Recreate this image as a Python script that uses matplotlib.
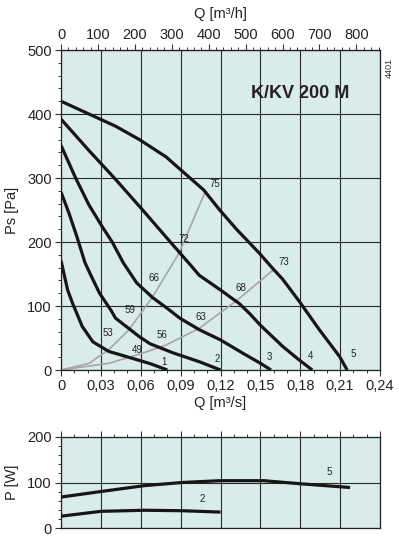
import numpy as np
import matplotlib
matplotlib.use('Agg')
import matplotlib.pyplot as plt
from matplotlib.ticker import MultipleLocator, FixedLocator

plt.rcParams['font.family'] = ['Liberation Sans', 'DejaVu Sans']

# fan curves, Q [m3/s] vs Ps [Pa]
q1 = [0, 0.005, 0.00875, 0.016, 0.024, 0.036, 0.054, 0.067, 0.08]
ps1 = [171, 125, 104, 68, 44, 29, 18, 10, 0]
q2 = [0, 0.006, 0.012, 0.018, 0.022, 0.029, 0.038, 0.041, 0.059, 0.067, 0.084, 0.104, 0.12]
ps2 = [278, 245, 208, 168, 150, 120, 92, 81, 52, 41, 27, 13, 0]
q3 = [0, 0.011, 0.021, 0.031, 0.0385, 0.047, 0.057, 0.069, 0.0795, 0.0894, 0.104, 0.12, 0.137, 0.15, 0.158]
ps3 = [351, 300, 258, 224, 200, 167, 136, 113, 97, 81, 63, 47, 26, 10.5, 0]
q4 = [0, 0.0133, 0.021, 0.041, 0.061, 0.076, 0.0894, 0.097, 0.104, 0.12, 0.134, 0.142, 0.15, 0.1667, 0.179, 0.189]
ps4 = [392, 361, 343, 298, 251, 215, 183, 165, 148, 125, 104, 88, 70, 37, 16, 0]
q5 = [0, 0.021, 0.041, 0.059, 0.079, 0.0894, 0.1075, 0.119, 0.132, 0.149, 0.16, 0.1667, 0.179, 0.194, 0.2096, 0.2153]
ps5 = [420, 400, 381, 360, 333, 314, 281, 251, 220, 183, 157, 142, 108, 64, 21, 0]
fan_q = [q1, q2, q3, q4, q5]
fan_ps = [ps1, ps2, ps3, ps4, ps5]
fan_names = ['1', '2', '3', '4', '5']
fan_name_pos = [(0.0775, 13), (0.1175, 17), (0.157, 21), (0.188, 22), (0.22, 25)]

# system curves (grey)
qa = [0, 0.0212, 0.036, 0.051, 0.069, 0.0889, 0.108]
psa = [0, 10.4, 32, 62.5, 114.5, 183, 276]
qb = [0, 0.036, 0.061, 0.079, 0.104, 0.1325, 0.16]
psb = [0, 10.4, 26, 39, 65, 109, 157]

# sound levels on the curves
db_text = ['53', '49', '59', '56', '66', '63', '72', '68', '75', '73']
db_q = [0.035, 0.0575, 0.052, 0.076, 0.07, 0.105, 0.0925, 0.135, 0.1155, 0.1675]
db_ps = [58, 32, 94, 55, 143, 83, 204, 128, 291, 169]

# power, Q [m3/s] vs P [W]
pq2 = [0, 0.03, 0.0625, 0.091, 0.12]
pw2 = [26, 36.6, 39, 38, 35]
pq5 = [0, 0.0296, 0.0625, 0.091, 0.12, 0.1525, 0.181, 0.2175]
pw5 = [68, 80, 93, 100, 104, 104, 97, 89]
pow_names = ['2', '5']
pow_name_pos = [(0.106, 64), (0.202, 122)]

xticks = [0, 0.03, 0.06, 0.09, 0.12, 0.15, 0.18, 0.21, 0.24]
xtick_labels = ['0', '0,03', '0,06', '0,09', '0,12', '0,15', '0,18', '0,21', '0,24']
top_ticks = [0, 100, 200, 300, 400, 500, 600, 700, 800]

bg = '#d9ece9'
grid_c = '#2b2b2b'
txt_c = '#222222'
W, H = 399, 545

fig = plt.figure(figsize=(W / 100, H / 100), dpi=100)
ax = fig.add_axes([61 / W, 1 - 370 / H, 319 / W, 320 / H])
ax2 = fig.add_axes([61 / W, 1 - 528 / H, 319 / W, 91 / H])

for a in (ax, ax2):
    a.set_facecolor(bg)
    a.set_xlim(0, 0.24)
    for s in a.spines.values():
        s.set_color('#222222')
        s.set_linewidth(0.9)
    a.xaxis.set_major_locator(FixedLocator(xticks))
    a.xaxis.set_minor_locator(MultipleLocator(0.01))
    a.tick_params(which='major', direction='out', length=4, width=0.8, color='#333333', labelsize=10.5, labelcolor=txt_c, pad=2.5)
    a.tick_params(which='minor', direction='out', length=2.5, width=0.7, color='#333333')
    a.grid(True, which='major', color=grid_c, linewidth=0.8)
    a.set_axisbelow(True)

# main chart
ax.set_ylim(0, 500)
ax.yaxis.set_major_locator(MultipleLocator(100))
ax.yaxis.set_minor_locator(MultipleLocator(20))
ax.set_xticklabels(xtick_labels)
ax.set_xlabel('Q [m³/s]', fontsize=10.5, color=txt_c)
ax.xaxis.set_label_coords(0.5, -0.08)
ax.set_ylabel('Ps [Pa]', fontsize=10.5, color=txt_c)
ax.yaxis.set_label_coords(-0.132, 0.5)

top = ax.secondary_xaxis('top', functions=(lambda q: q * 3600, lambda h: h / 3600))
top.xaxis.set_major_locator(FixedLocator(top_ticks))
top.xaxis.set_minor_locator(MultipleLocator(20))
top.tick_params(which='major', direction='out', length=4, width=0.8, color='#333333', labelsize=10.5, labelcolor=txt_c, pad=2)
top.tick_params(which='minor', direction='out', length=2.5, width=0.7, color='#333333')
fig.text(220 / W, 1 - 14 / H, 'Q [m³/h]', fontsize=10.5, ha='center', va='center', color=txt_c)

ax.plot(qa, psa, color='#a6a6a6', lw=1.2, zorder=2)
ax.plot(qb, psb, color='#a6a6a6', lw=1.2, zorder=2)
for q, ps, name, pos in zip(fan_q, fan_ps, fan_names, fan_name_pos):
    ax.plot(q, ps, color='#161616', lw=2.3, solid_capstyle='butt', solid_joinstyle='round', zorder=3)
    ax.text(pos[0], pos[1], name, fontsize=7, ha='center', va='center', color=txt_c, zorder=4)
for t, q, ps in zip(db_text, db_q, db_ps):
    ax.text(q, ps, t, fontsize=7, ha='center', va='center', color=txt_c, zorder=4)

ax.text(0.18, 432, 'K/KV 200 M', fontsize=13, fontweight='bold', ha='center', va='center', color=txt_c)
fig.text(389 / W, 1 - 68 / H, '4401', rotation=90, fontsize=6.5, ha='center', va='center', color='#333333')

# power chart
ax2.set_ylim(0, 200)
ax2.yaxis.set_major_locator(MultipleLocator(100))
ax2.yaxis.set_minor_locator(MultipleLocator(20))
ax2.tick_params(axis='x', which='both', bottom=False, labelbottom=False, top=True, labeltop=False)
ax2.set_ylabel('P [W]', fontsize=10.5, color=txt_c)
ax2.yaxis.set_label_coords(-0.132, 0.5)
ax2.plot(pq2, pw2, color='#161616', lw=2.3, solid_capstyle='butt', solid_joinstyle='round', zorder=3)
ax2.plot(pq5, pw5, color='#161616', lw=2.3, solid_capstyle='butt', solid_joinstyle='round', zorder=3)
for name, pos in zip(pow_names, pow_name_pos):
    ax2.text(pos[0], pos[1], name, fontsize=7, ha='center', va='center', color=txt_c)

fig.savefig('out.png', dpi=100, facecolor='white')
